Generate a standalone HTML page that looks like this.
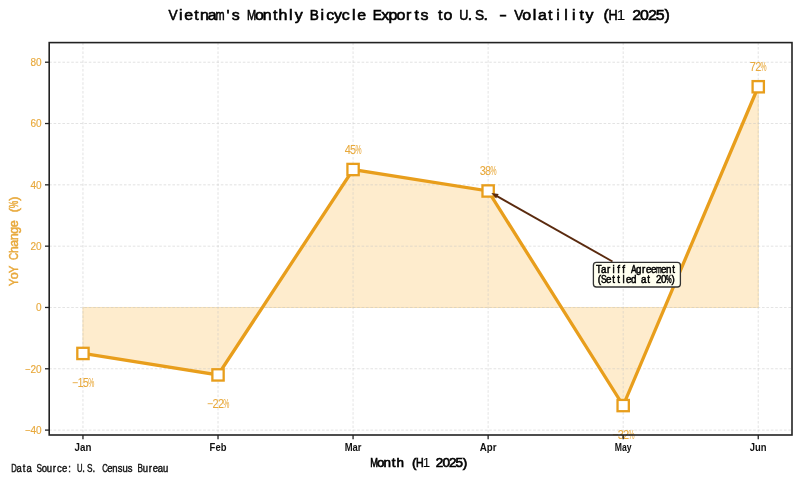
<!DOCTYPE html>
<html><head><meta charset="utf-8"><style>
html,body{margin:0;padding:0;background:#fff;width:800px;height:481px;overflow:hidden;}
svg{display:block;filter:blur(0.3px);font-family:"Liberation Sans", sans-serif;}
</style></head><body>
<svg width="800" height="481" viewBox="0 0 800 481">
<rect x="0" y="0" width="800" height="481" fill="#ffffff"/>
<polygon points="82.96,307.47 82.96,353.45 218.02,374.91 353.07,169.52 488.13,190.98 623.18,405.57 758.24,86.75 758.24,307.47" fill="#FEECCD" stroke="#F6DCA8" stroke-width="0.8"/>
<line x1="82.96" y1="42.60" x2="82.96" y2="435.00" stroke="#c4c4c4" stroke-width="0.8" stroke-dasharray="2.6,1.8" opacity="0.6"/>
<line x1="218.02" y1="42.60" x2="218.02" y2="435.00" stroke="#c4c4c4" stroke-width="0.8" stroke-dasharray="2.6,1.8" opacity="0.6"/>
<line x1="353.07" y1="42.60" x2="353.07" y2="435.00" stroke="#c4c4c4" stroke-width="0.8" stroke-dasharray="2.6,1.8" opacity="0.6"/>
<line x1="488.13" y1="42.60" x2="488.13" y2="435.00" stroke="#c4c4c4" stroke-width="0.8" stroke-dasharray="2.6,1.8" opacity="0.6"/>
<line x1="623.18" y1="42.60" x2="623.18" y2="435.00" stroke="#c4c4c4" stroke-width="0.8" stroke-dasharray="2.6,1.8" opacity="0.6"/>
<line x1="758.24" y1="42.60" x2="758.24" y2="435.00" stroke="#c4c4c4" stroke-width="0.8" stroke-dasharray="2.6,1.8" opacity="0.6"/>
<line x1="49.20" y1="430.10" x2="792.00" y2="430.10" stroke="#c4c4c4" stroke-width="0.8" stroke-dasharray="2.6,1.8" opacity="0.6"/>
<line x1="49.20" y1="368.78" x2="792.00" y2="368.78" stroke="#c4c4c4" stroke-width="0.8" stroke-dasharray="2.6,1.8" opacity="0.6"/>
<line x1="49.20" y1="307.47" x2="792.00" y2="307.47" stroke="#c4c4c4" stroke-width="0.8" stroke-dasharray="2.6,1.8" opacity="0.6"/>
<line x1="49.20" y1="246.16" x2="792.00" y2="246.16" stroke="#c4c4c4" stroke-width="0.8" stroke-dasharray="2.6,1.8" opacity="0.6"/>
<line x1="49.20" y1="184.84" x2="792.00" y2="184.84" stroke="#c4c4c4" stroke-width="0.8" stroke-dasharray="2.6,1.8" opacity="0.6"/>
<line x1="49.20" y1="123.53" x2="792.00" y2="123.53" stroke="#c4c4c4" stroke-width="0.8" stroke-dasharray="2.6,1.8" opacity="0.6"/>
<line x1="49.20" y1="62.22" x2="792.00" y2="62.22" stroke="#c4c4c4" stroke-width="0.8" stroke-dasharray="2.6,1.8" opacity="0.6"/>
<polyline points="82.96,353.45 218.02,374.91 353.07,169.52 488.13,190.98 623.18,405.57 758.24,86.75" fill="none" stroke="#E89E1C" stroke-width="3.3" stroke-linejoin="miter"/>
<rect x="77.31" y="347.80" width="11.3" height="11.3" fill="#ffffff" stroke="#E89E1C" stroke-width="2.3"/>
<rect x="212.37" y="369.26" width="11.3" height="11.3" fill="#ffffff" stroke="#E89E1C" stroke-width="2.3"/>
<rect x="347.42" y="163.87" width="11.3" height="11.3" fill="#ffffff" stroke="#E89E1C" stroke-width="2.3"/>
<rect x="482.48" y="185.33" width="11.3" height="11.3" fill="#ffffff" stroke="#E89E1C" stroke-width="2.3"/>
<rect x="617.53" y="399.92" width="11.3" height="11.3" fill="#ffffff" stroke="#E89E1C" stroke-width="2.3"/>
<rect x="752.59" y="81.10" width="11.3" height="11.3" fill="#ffffff" stroke="#E89E1C" stroke-width="2.3"/>
<g font-family="Liberation Sans" font-size="12.20" fill="#E8A93C" text-anchor="middle" font-weight="normal" stroke="#E8A93C" stroke-width="0.05">
<text transform="translate(75.11,386.95) scale(0.856,1)">−</text>
<text transform="translate(80.51,386.95) scale(0.899,1)" stroke-width="0">1</text>
<text transform="translate(85.91,386.95) scale(0.899,1)">5</text>
<text transform="translate(91.31,386.95) scale(0.562,1)">%</text>
</g>
<g font-family="Liberation Sans" font-size="12.20" fill="#E8A93C" text-anchor="middle" font-weight="normal" stroke="#E8A93C" stroke-width="0.05">
<text transform="translate(210.17,408.41) scale(0.856,1)">−</text>
<text transform="translate(215.57,408.41) scale(0.899,1)">2</text>
<text transform="translate(220.97,408.41) scale(0.899,1)">2</text>
<text transform="translate(226.37,408.41) scale(0.562,1)">%</text>
</g>
<g font-family="Liberation Sans" font-size="12.20" fill="#E8A93C" text-anchor="middle" font-weight="normal" stroke="#E8A93C" stroke-width="0.05">
<text transform="translate(347.67,153.52) scale(0.899,1)">4</text>
<text transform="translate(353.07,153.52) scale(0.899,1)">5</text>
<text transform="translate(358.47,153.52) scale(0.562,1)">%</text>
</g>
<g font-family="Liberation Sans" font-size="12.20" fill="#E8A93C" text-anchor="middle" font-weight="normal" stroke="#E8A93C" stroke-width="0.05">
<text transform="translate(482.73,174.98) scale(0.899,1)">3</text>
<text transform="translate(488.13,174.98) scale(0.899,1)">8</text>
<text transform="translate(493.53,174.98) scale(0.562,1)">%</text>
</g>
<g font-family="Liberation Sans" font-size="12.20" fill="#E8A93C" text-anchor="middle" font-weight="normal" stroke="#E8A93C" stroke-width="0.05">
<text transform="translate(615.33,439.07) scale(0.856,1)">−</text>
<text transform="translate(620.73,439.07) scale(0.899,1)">3</text>
<text transform="translate(626.13,439.07) scale(0.899,1)">2</text>
<text transform="translate(631.53,439.07) scale(0.562,1)">%</text>
</g>
<g font-family="Liberation Sans" font-size="12.20" fill="#E8A93C" text-anchor="middle" font-weight="normal" stroke="#E8A93C" stroke-width="0.05">
<text transform="translate(752.84,70.75) scale(0.899,1)">7</text>
<text transform="translate(758.24,70.75) scale(0.899,1)">2</text>
<text transform="translate(763.64,70.75) scale(0.562,1)">%</text>
</g>
<rect x="49.20" y="42.60" width="742.80" height="392.40" fill="none" stroke="#222" stroke-width="1.6"/>
<line x1="82.96" y1="435.00" x2="82.96" y2="439.20" stroke="#222" stroke-width="1.3"/>
<line x1="218.02" y1="435.00" x2="218.02" y2="439.20" stroke="#222" stroke-width="1.3"/>
<line x1="353.07" y1="435.00" x2="353.07" y2="439.20" stroke="#222" stroke-width="1.3"/>
<line x1="488.13" y1="435.00" x2="488.13" y2="439.20" stroke="#222" stroke-width="1.3"/>
<line x1="623.18" y1="435.00" x2="623.18" y2="439.20" stroke="#222" stroke-width="1.3"/>
<line x1="758.24" y1="435.00" x2="758.24" y2="439.20" stroke="#222" stroke-width="1.3"/>
<line x1="45.00" y1="430.10" x2="49.20" y2="430.10" stroke="#222" stroke-width="1.3"/>
<line x1="45.00" y1="368.78" x2="49.20" y2="368.78" stroke="#222" stroke-width="1.3"/>
<line x1="45.00" y1="307.47" x2="49.20" y2="307.47" stroke="#222" stroke-width="1.3"/>
<line x1="45.00" y1="246.16" x2="49.20" y2="246.16" stroke="#222" stroke-width="1.3"/>
<line x1="45.00" y1="184.84" x2="49.20" y2="184.84" stroke="#222" stroke-width="1.3"/>
<line x1="45.00" y1="123.53" x2="49.20" y2="123.53" stroke="#222" stroke-width="1.3"/>
<line x1="45.00" y1="62.22" x2="49.20" y2="62.22" stroke="#222" stroke-width="1.3"/>
<g font-family="Liberation Sans" font-size="11.20" fill="#E8A93C" text-anchor="middle" font-weight="normal" stroke="#E8A93C" stroke-width="0.15">
<text transform="translate(27.85,434.00) scale(0.856,1)">−</text>
<text transform="translate(33.35,434.00) scale(0.899,1)">4</text>
<text transform="translate(38.85,434.00) scale(0.899,1)">0</text>
</g>
<g font-family="Liberation Sans" font-size="11.20" fill="#E8A93C" text-anchor="middle" font-weight="normal" stroke="#E8A93C" stroke-width="0.15">
<text transform="translate(27.85,372.68) scale(0.856,1)">−</text>
<text transform="translate(33.35,372.68) scale(0.899,1)">2</text>
<text transform="translate(38.85,372.68) scale(0.899,1)">0</text>
</g>
<g font-family="Liberation Sans" font-size="11.20" fill="#E8A93C" text-anchor="middle" font-weight="normal" stroke="#E8A93C" stroke-width="0.15">
<text transform="translate(38.85,311.37) scale(0.899,1)">0</text>
</g>
<g font-family="Liberation Sans" font-size="11.20" fill="#E8A93C" text-anchor="middle" font-weight="normal" stroke="#E8A93C" stroke-width="0.15">
<text transform="translate(33.35,250.06) scale(0.899,1)">2</text>
<text transform="translate(38.85,250.06) scale(0.899,1)">0</text>
</g>
<g font-family="Liberation Sans" font-size="11.20" fill="#E8A93C" text-anchor="middle" font-weight="normal" stroke="#E8A93C" stroke-width="0.15">
<text transform="translate(33.35,188.75) scale(0.899,1)">4</text>
<text transform="translate(38.85,188.75) scale(0.899,1)">0</text>
</g>
<g font-family="Liberation Sans" font-size="11.20" fill="#E8A93C" text-anchor="middle" font-weight="normal" stroke="#E8A93C" stroke-width="0.15">
<text transform="translate(33.35,127.43) scale(0.899,1)">6</text>
<text transform="translate(38.85,127.43) scale(0.899,1)">0</text>
</g>
<g font-family="Liberation Sans" font-size="11.20" fill="#E8A93C" text-anchor="middle" font-weight="normal" stroke="#E8A93C" stroke-width="0.15">
<text transform="translate(33.35,66.12) scale(0.899,1)">8</text>
<text transform="translate(38.85,66.12) scale(0.899,1)">0</text>
</g>
<text x="82.96" y="450.9" font-family="Liberation Sans" font-weight="bold" font-size="10.8" fill="#111" text-anchor="middle" textLength="16.8" lengthAdjust="spacingAndGlyphs">Jan</text>
<text x="218.02" y="450.9" font-family="Liberation Sans" font-weight="bold" font-size="10.8" fill="#111" text-anchor="middle" textLength="16.8" lengthAdjust="spacingAndGlyphs">Feb</text>
<text x="353.07" y="450.9" font-family="Liberation Sans" font-weight="bold" font-size="10.8" fill="#111" text-anchor="middle" textLength="16.8" lengthAdjust="spacingAndGlyphs">Mar</text>
<text x="488.13" y="450.9" font-family="Liberation Sans" font-weight="bold" font-size="10.8" fill="#111" text-anchor="middle" textLength="16.8" lengthAdjust="spacingAndGlyphs">Apr</text>
<text x="623.18" y="450.9" font-family="Liberation Sans" font-weight="bold" font-size="10.8" fill="#111" text-anchor="middle" textLength="16.8" lengthAdjust="spacingAndGlyphs">May</text>
<text x="758.24" y="450.9" font-family="Liberation Sans" font-weight="bold" font-size="10.8" fill="#111" text-anchor="middle" textLength="16.8" lengthAdjust="spacingAndGlyphs">Jun</text>
<g font-family="Liberation Sans" font-size="15.20" fill="#000" text-anchor="middle" font-weight="normal" stroke="#000" stroke-width="0.60">
<text transform="translate(172.93,20.20) scale(0.900,1)">V</text>
<text transform="translate(180.79,20.20) scale(1.050,1)">i</text>
<text transform="translate(188.65,20.20) scale(1.050,1)">e</text>
<text transform="translate(196.51,20.20) scale(1.050,1)">t</text>
<text transform="translate(204.37,20.20) scale(1.050,1)">n</text>
<text transform="translate(212.23,20.20) scale(1.050,1)">a</text>
<text transform="translate(220.09,20.20) scale(0.720,1)">m</text>
<text transform="translate(227.95,20.20) scale(1.050,1)">&#39;</text>
<text transform="translate(235.81,20.20) scale(1.050,1)">s</text>
<text transform="translate(251.53,20.20) scale(0.720,1)">M</text>
<text transform="translate(259.39,20.20) scale(1.050,1)">o</text>
<text transform="translate(267.25,20.20) scale(1.050,1)">n</text>
<text transform="translate(275.11,20.20) scale(1.050,1)">t</text>
<text transform="translate(282.97,20.20) scale(1.050,1)">h</text>
<text transform="translate(290.83,20.20) scale(1.050,1)">l</text>
<text transform="translate(298.69,20.20) scale(1.050,1)">y</text>
<text transform="translate(314.41,20.20) scale(0.900,1)">B</text>
<text transform="translate(322.27,20.20) scale(1.050,1)">i</text>
<text transform="translate(330.13,20.20) scale(1.050,1)">c</text>
<text transform="translate(337.99,20.20) scale(1.050,1)">y</text>
<text transform="translate(345.85,20.20) scale(1.050,1)">c</text>
<text transform="translate(353.71,20.20) scale(1.050,1)">l</text>
<text transform="translate(361.57,20.20) scale(1.050,1)">e</text>
<text transform="translate(377.29,20.20) scale(0.900,1)">E</text>
<text transform="translate(385.15,20.20) scale(1.050,1)">x</text>
<text transform="translate(393.01,20.20) scale(1.050,1)">p</text>
<text transform="translate(400.87,20.20) scale(1.050,1)">o</text>
<text transform="translate(408.73,20.20) scale(1.050,1)">r</text>
<text transform="translate(416.59,20.20) scale(1.050,1)">t</text>
<text transform="translate(424.45,20.20) scale(1.050,1)">s</text>
<text transform="translate(440.17,20.20) scale(1.050,1)">t</text>
<text transform="translate(448.03,20.20) scale(1.050,1)">o</text>
<text transform="translate(463.75,20.20) scale(0.831,1)">U</text>
<text transform="translate(469.88,20.20) scale(1.050,1)">.</text>
<text transform="translate(479.47,20.20) scale(0.900,1)">S</text>
<text transform="translate(485.60,20.20) scale(1.050,1)">.</text>
<text transform="translate(503.05,20.20) scale(1.500,1)">-</text>
<text transform="translate(518.77,20.20) scale(0.900,1)">V</text>
<text transform="translate(526.63,20.20) scale(1.050,1)">o</text>
<text transform="translate(534.49,20.20) scale(1.050,1)">l</text>
<text transform="translate(542.35,20.20) scale(1.050,1)">a</text>
<text transform="translate(550.21,20.20) scale(1.050,1)">t</text>
<text transform="translate(558.07,20.20) scale(1.050,1)">i</text>
<text transform="translate(565.93,20.20) scale(1.050,1)">l</text>
<text transform="translate(573.79,20.20) scale(1.050,1)">i</text>
<text transform="translate(581.65,20.20) scale(1.050,1)">t</text>
<text transform="translate(589.51,20.20) scale(1.050,1)">y</text>
<text transform="translate(606.17,20.20) scale(1.050,1)">(</text>
<text transform="translate(613.09,20.20) scale(0.831,1)">H</text>
<text transform="translate(620.95,20.20) scale(1.050,1)" stroke-width="0">1</text>
<text transform="translate(636.67,20.20) scale(1.050,1)">2</text>
<text transform="translate(644.53,20.20) scale(1.050,1)">0</text>
<text transform="translate(652.39,20.20) scale(1.050,1)">2</text>
<text transform="translate(660.25,20.20) scale(1.050,1)">5</text>
<text transform="translate(667.17,20.20) scale(1.050,1)">)</text>
</g>
<g font-family="Liberation Sans" font-size="12.80" fill="#000" text-anchor="middle" font-weight="normal" stroke="#000" stroke-width="0.65">
<text transform="translate(374.07,466.70) scale(0.720,1)">M</text>
<text transform="translate(380.62,466.70) scale(1.050,1)">o</text>
<text transform="translate(387.18,466.70) scale(1.050,1)">n</text>
<text transform="translate(393.73,466.70) scale(1.050,1)">t</text>
<text transform="translate(400.28,466.70) scale(1.050,1)">h</text>
<text transform="translate(414.16,466.70) scale(1.050,1)">(</text>
<text transform="translate(419.93,466.70) scale(0.831,1)">H</text>
<text transform="translate(426.48,466.70) scale(1.050,1)" stroke-width="0">1</text>
<text transform="translate(439.57,466.70) scale(1.050,1)">2</text>
<text transform="translate(446.12,466.70) scale(1.050,1)">0</text>
<text transform="translate(452.68,466.70) scale(1.050,1)">2</text>
<text transform="translate(459.23,466.70) scale(1.050,1)">5</text>
<text transform="translate(464.99,466.70) scale(1.050,1)">)</text>
</g>
<g transform="translate(17.60,285.60) rotate(-90)">
<g font-family="Liberation Sans" font-size="13.20" fill="#E8A93C" text-anchor="middle" font-weight="normal" stroke="#E8A93C" stroke-width="0.50">
<text transform="translate(3.25,0.00) scale(0.825,1)">Y</text>
<text transform="translate(9.75,0.00) scale(0.950,1)">o</text>
<text transform="translate(16.25,0.00) scale(0.825,1)">Y</text>
<text transform="translate(29.25,0.00) scale(0.762,1)">C</text>
<text transform="translate(35.75,0.00) scale(0.950,1)">h</text>
<text transform="translate(42.25,0.00) scale(0.950,1)">a</text>
<text transform="translate(48.75,0.00) scale(0.950,1)">n</text>
<text transform="translate(55.25,0.00) scale(0.950,1)">g</text>
<text transform="translate(61.75,0.00) scale(0.950,1)">e</text>
<text transform="translate(75.53,0.00) scale(0.950,1)">(</text>
<text transform="translate(81.25,0.00) scale(0.619,1)">%</text>
<text transform="translate(86.97,0.00) scale(0.950,1)">)</text>
</g>
</g>
<g font-family="Liberation Sans" font-size="10.00" fill="#111" text-anchor="middle" font-weight="normal" stroke="#111" stroke-width="0.40">
<text transform="translate(14.03,471.70) scale(0.762,1)">D</text>
<text transform="translate(19.07,471.70) scale(0.950,1)">a</text>
<text transform="translate(24.12,471.70) scale(0.950,1)">t</text>
<text transform="translate(29.18,471.70) scale(0.950,1)">a</text>
<text transform="translate(39.27,471.70) scale(0.825,1)">S</text>
<text transform="translate(44.32,471.70) scale(0.950,1)">o</text>
<text transform="translate(49.38,471.70) scale(0.950,1)">u</text>
<text transform="translate(54.42,471.70) scale(0.950,1)">r</text>
<text transform="translate(59.48,471.70) scale(0.950,1)">c</text>
<text transform="translate(64.53,471.70) scale(0.950,1)">e</text>
<text transform="translate(69.57,471.70) scale(0.950,1)">:</text>
<text transform="translate(79.67,471.70) scale(0.762,1)">U</text>
<text transform="translate(83.61,471.70) scale(0.950,1)">.</text>
<text transform="translate(89.77,471.70) scale(0.825,1)">S</text>
<text transform="translate(93.71,471.70) scale(0.950,1)">.</text>
<text transform="translate(104.92,471.70) scale(0.762,1)">C</text>
<text transform="translate(109.97,471.70) scale(0.950,1)">e</text>
<text transform="translate(115.02,471.70) scale(0.950,1)">n</text>
<text transform="translate(120.08,471.70) scale(0.950,1)">s</text>
<text transform="translate(125.12,471.70) scale(0.950,1)">u</text>
<text transform="translate(130.18,471.70) scale(0.950,1)">s</text>
<text transform="translate(140.28,471.70) scale(0.825,1)">B</text>
<text transform="translate(145.32,471.70) scale(0.950,1)">u</text>
<text transform="translate(150.38,471.70) scale(0.950,1)">r</text>
<text transform="translate(155.42,471.70) scale(0.950,1)">e</text>
<text transform="translate(160.47,471.70) scale(0.950,1)">a</text>
<text transform="translate(165.53,471.70) scale(0.950,1)">u</text>
</g>
<line x1="612.50" y1="261.50" x2="496.52" y2="195.86" stroke="#5A2A0E" stroke-width="1.9"/>
<polygon points="491.30,192.90 498.67,194.09 496.11,198.61" fill="#5A2A0E"/>
<rect x="593.4" y="262.4" width="87.0" height="24.6" rx="3" ry="3" fill="#FFFFF0" stroke="#333" stroke-width="1.3"/>
<g font-family="Liberation Sans" font-size="10.00" fill="#000" text-anchor="middle" font-weight="normal" stroke="#000" stroke-width="0.50">
<text transform="translate(598.70,272.60) scale(0.917,1)">T</text>
<text transform="translate(603.70,272.60) scale(0.980,1)">a</text>
<text transform="translate(608.70,272.60) scale(0.980,1)">r</text>
<text transform="translate(613.70,272.60) scale(0.980,1)">i</text>
<text transform="translate(618.70,272.60) scale(0.980,1)">f</text>
<text transform="translate(623.70,272.60) scale(0.980,1)">f</text>
<text transform="translate(633.70,272.60) scale(0.840,1)">A</text>
<text transform="translate(638.70,272.60) scale(0.980,1)">g</text>
<text transform="translate(643.70,272.60) scale(0.980,1)">r</text>
<text transform="translate(648.70,272.60) scale(0.980,1)">e</text>
<text transform="translate(653.70,272.60) scale(0.980,1)">e</text>
<text transform="translate(658.70,272.60) scale(0.672,1)">m</text>
<text transform="translate(663.70,272.60) scale(0.980,1)">e</text>
<text transform="translate(668.70,272.60) scale(0.980,1)">n</text>
<text transform="translate(673.70,272.60) scale(0.980,1)">t</text>
</g>
<g font-family="Liberation Sans" font-size="10.00" fill="#000" text-anchor="middle" font-weight="normal" stroke="#000" stroke-width="0.50">
<text transform="translate(599.30,282.50) scale(0.980,1)">(</text>
<text transform="translate(603.70,282.50) scale(0.840,1)">S</text>
<text transform="translate(608.70,282.50) scale(0.980,1)">e</text>
<text transform="translate(613.70,282.50) scale(0.980,1)">t</text>
<text transform="translate(618.70,282.50) scale(0.980,1)">t</text>
<text transform="translate(623.70,282.50) scale(0.980,1)">l</text>
<text transform="translate(628.70,282.50) scale(0.980,1)">e</text>
<text transform="translate(633.70,282.50) scale(0.980,1)">d</text>
<text transform="translate(643.70,282.50) scale(0.980,1)">a</text>
<text transform="translate(648.70,282.50) scale(0.980,1)">t</text>
<text transform="translate(658.70,282.50) scale(0.980,1)">2</text>
<text transform="translate(663.70,282.50) scale(0.980,1)">0</text>
<text transform="translate(668.70,282.50) scale(0.630,1)">%</text>
<text transform="translate(673.10,282.50) scale(0.980,1)">)</text>
</g>
</svg>
</body></html>
